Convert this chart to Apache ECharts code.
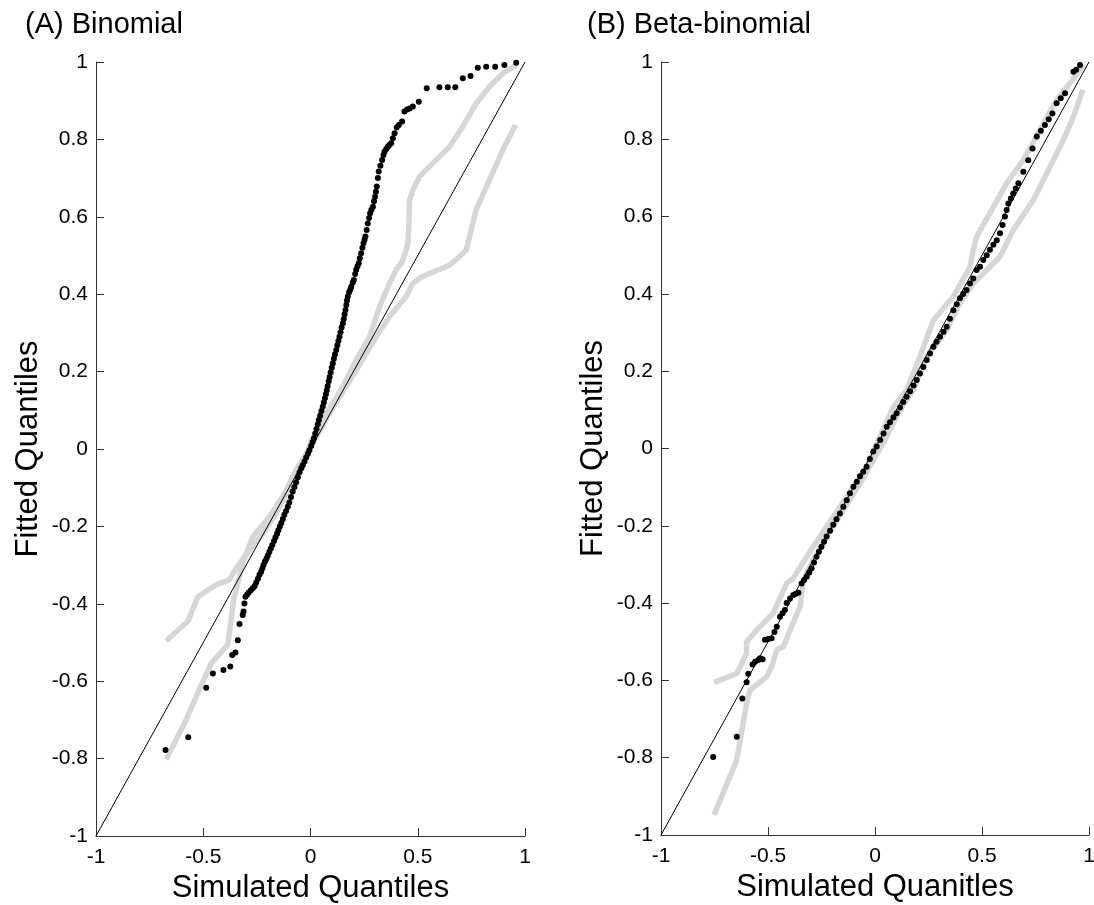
<!DOCTYPE html>
<html lang="en">
  <head>
    <meta charset="UTF-8" />
    <script src="https://cdn.jsdelivr.net/npm/echarts@6/dist/echarts.min.js"></script>
    <title>QQ plots</title>
    <style>
      html, body { margin: 0; padding: 0; background: #fff; }
    </style>
  </head>
  <body>
    <div id="container" style="width: 1094px; height: 905px;"></div>

    <script>
      // ---- data: [simulated, fitted] ----
      const binomialPoints = [
        [-0.676, -0.778], [-0.570, -0.745], [-0.486, -0.617], [-0.455, -0.580], [-0.406, -0.571],
        [-0.374, -0.562], [-0.365, -0.532], [-0.350, -0.526], [-0.339, -0.494], [-0.331, -0.452],
        [-0.316, -0.429], [-0.312, -0.420], [-0.308, -0.399], [-0.303, -0.382], [-0.295, -0.376],
        [-0.288, -0.371], [-0.278, -0.365], [-0.269, -0.360], [-0.260, -0.354], [-0.253, -0.345],
        [-0.245, -0.335], [-0.238, -0.325], [-0.230, -0.317], [-0.224, -0.308], [-0.219, -0.300],
        [-0.212, -0.291], [-0.205, -0.283], [-0.199, -0.275], [-0.192, -0.266], [-0.185, -0.257],
        [-0.178, -0.248], [-0.170, -0.238], [-0.163, -0.228], [-0.156, -0.219], [-0.150, -0.210],
        [-0.143, -0.200], [-0.136, -0.191], [-0.129, -0.181], [-0.122, -0.170], [-0.114, -0.160],
        [-0.106, -0.149], [-0.099, -0.138], [-0.091, -0.124], [-0.083, -0.110], [-0.075, -0.098],
        [-0.067, -0.086], [-0.059, -0.073], [-0.051, -0.060], [-0.043, -0.050], [-0.036, -0.042],
        [-0.028, -0.032], [-0.020, -0.022], [-0.012, -0.012], [-0.005, -0.003], [0.003, 0.008],
        [0.010, 0.018], [0.016, 0.028], [0.022, 0.040], [0.028, 0.052], [0.034, 0.064],
        [0.039, 0.075], [0.045, 0.086], [0.051, 0.098], [0.057, 0.109], [0.062, 0.120],
        [0.067, 0.131], [0.072, 0.142], [0.076, 0.152], [0.080, 0.163], [0.085, 0.175],
        [0.089, 0.186], [0.094, 0.198], [0.099, 0.210], [0.104, 0.221], [0.109, 0.233],
        [0.114, 0.244], [0.120, 0.256], [0.125, 0.268], [0.130, 0.279], [0.135, 0.290],
        [0.140, 0.302], [0.145, 0.314], [0.151, 0.325], [0.155, 0.336], [0.159, 0.348],
        [0.163, 0.359], [0.167, 0.372], [0.170, 0.384], [0.174, 0.394], [0.180, 0.405],
        [0.186, 0.413], [0.190, 0.419], [0.197, 0.430], [0.202, 0.437], [0.208, 0.452],
        [0.213, 0.463], [0.219, 0.472], [0.225, 0.480], [0.230, 0.493], [0.236, 0.506],
        [0.242, 0.520], [0.247, 0.532], [0.252, 0.541], [0.256, 0.549], [0.262, 0.566],
        [0.267, 0.583], [0.273, 0.597], [0.278, 0.609], [0.284, 0.618], [0.291, 0.626],
        [0.296, 0.640], [0.301, 0.652], [0.305, 0.665], [0.309, 0.678], [0.314, 0.700],
        [0.318, 0.717], [0.326, 0.732], [0.334, 0.747], [0.340, 0.760], [0.345, 0.768],
        [0.353, 0.775], [0.361, 0.781], [0.368, 0.786], [0.376, 0.790], [0.384, 0.803],
        [0.392, 0.816], [0.402, 0.831], [0.412, 0.837], [0.427, 0.846], [0.438, 0.872],
        [0.450, 0.877], [0.462, 0.880], [0.477, 0.885], [0.505, 0.897], [0.542, 0.932],
        [0.601, 0.935], [0.640, 0.935], [0.675, 0.935], [0.710, 0.958], [0.746, 0.964],
        [0.780, 0.985], [0.819, 0.988], [0.861, 0.988], [0.904, 0.992], [0.959, 0.998]
      ];

      const binomialUpper = [
        [-0.673, -0.496], [-0.570, -0.444], [-0.525, -0.382], [-0.480, -0.365], [-0.440, -0.351],
        [-0.378, -0.338], [-0.346, -0.308], [-0.284, -0.261], [-0.222, -0.218], [-0.160, -0.166],
        [-0.098, -0.097], [-0.036, -0.037], [0.003, 0.019], [0.057, 0.075], [0.151, 0.161],
        [0.213, 0.230], [0.275, 0.290], [0.322, 0.368], [0.368, 0.428], [0.401, 0.465],
        [0.423, 0.480], [0.438, 0.500], [0.454, 0.530], [0.460, 0.600], [0.462, 0.643],
        [0.477, 0.669], [0.508, 0.704], [0.586, 0.747], [0.648, 0.781], [0.710, 0.833],
        [0.772, 0.893], [0.834, 0.936], [0.897, 0.971], [0.959, 0.992]
      ];

      const binomialLower = [
        [-0.673, -0.802], [-0.580, -0.700], [-0.533, -0.640], [-0.463, -0.554], [-0.386, -0.506],
        [-0.370, -0.442], [-0.359, -0.390], [-0.346, -0.364], [-0.316, -0.295], [-0.269, -0.227],
        [-0.191, -0.175], [-0.129, -0.123], [-0.067, -0.054], [0.011, 0.015], [0.089, 0.092],
        [0.213, 0.204], [0.306, 0.290], [0.368, 0.342], [0.446, 0.394], [0.477, 0.428],
        [0.510, 0.442], [0.539, 0.450], [0.648, 0.475], [0.695, 0.497], [0.726, 0.514],
        [0.772, 0.618], [0.834, 0.695], [0.897, 0.773], [0.956, 0.837]
      ];

      const betaPoints = [
        [-0.756, -0.798], [-0.646, -0.746], [-0.620, -0.647], [-0.600, -0.605], [-0.592, -0.583],
        [-0.572, -0.559], [-0.560, -0.552], [-0.545, -0.547], [-0.537, -0.543], [-0.525, -0.545],
        [-0.514, -0.495], [-0.499, -0.493], [-0.483, -0.491], [-0.470, -0.475], [-0.459, -0.461],
        [-0.444, -0.435], [-0.432, -0.426], [-0.421, -0.418], [-0.413, -0.400], [-0.397, -0.388],
        [-0.382, -0.379], [-0.370, -0.376], [-0.358, -0.373], [-0.343, -0.349], [-0.331, -0.340],
        [-0.319, -0.332], [-0.307, -0.321], [-0.296, -0.310], [-0.285, -0.295], [-0.273, -0.280],
        [-0.262, -0.267], [-0.250, -0.254], [-0.238, -0.241], [-0.226, -0.228], [-0.210, -0.213],
        [-0.195, -0.197], [-0.180, -0.183], [-0.164, -0.168], [-0.148, -0.151], [-0.132, -0.134],
        [-0.117, -0.116], [-0.101, -0.099], [-0.085, -0.086], [-0.070, -0.072], [-0.055, -0.060],
        [-0.039, -0.047], [-0.024, -0.027], [-0.008, -0.008], [0.008, 0.005], [0.024, 0.022],
        [0.040, 0.039], [0.055, 0.056], [0.070, 0.068], [0.086, 0.080], [0.101, 0.091],
        [0.117, 0.106], [0.132, 0.120], [0.148, 0.134], [0.164, 0.148], [0.180, 0.163],
        [0.195, 0.177], [0.210, 0.194], [0.226, 0.211], [0.242, 0.229], [0.257, 0.246],
        [0.273, 0.263], [0.288, 0.276], [0.304, 0.289], [0.320, 0.302], [0.335, 0.315],
        [0.350, 0.336], [0.366, 0.358], [0.382, 0.373], [0.397, 0.389], [0.412, 0.400],
        [0.428, 0.410], [0.444, 0.427], [0.459, 0.440], [0.475, 0.462], [0.491, 0.470],
        [0.506, 0.488], [0.522, 0.500], [0.537, 0.514], [0.553, 0.527], [0.569, 0.539],
        [0.584, 0.557], [0.596, 0.578], [0.607, 0.600], [0.615, 0.617], [0.623, 0.634],
        [0.635, 0.647], [0.646, 0.660], [0.658, 0.673], [0.670, 0.686], [0.693, 0.716],
        [0.716, 0.746], [0.736, 0.776], [0.756, 0.807], [0.775, 0.822], [0.794, 0.837],
        [0.812, 0.852], [0.829, 0.867], [0.849, 0.893], [0.868, 0.906], [0.888, 0.919],
        [0.927, 0.975], [0.940, 0.980], [0.958, 0.992]
      ];

      const betaUpper = [
        [-0.752, -0.605], [-0.646, -0.582], [-0.600, -0.530], [-0.600, -0.500], [-0.553, -0.470],
        [-0.475, -0.426], [-0.413, -0.349], [-0.382, -0.336], [-0.319, -0.280], [-0.226, -0.202],
        [-0.132, -0.125], [-0.039, -0.047], [0.008, 0.013], [0.086, 0.108], [0.148, 0.151],
        [0.210, 0.238], [0.273, 0.332], [0.366, 0.393], [0.444, 0.470], [0.459, 0.514],
        [0.475, 0.548], [0.537, 0.609], [0.615, 0.686], [0.693, 0.746], [0.771, 0.824],
        [0.849, 0.902], [0.911, 0.945], [0.974, 0.992]
      ];

      const betaLower = [
        [-0.752, -0.948], [-0.646, -0.806], [-0.600, -0.659], [-0.584, -0.625], [-0.506, -0.590],
        [-0.483, -0.565], [-0.459, -0.521], [-0.428, -0.513], [-0.397, -0.470], [-0.350, -0.409],
        [-0.335, -0.340], [-0.288, -0.288], [-0.226, -0.228], [-0.148, -0.159], [-0.070, -0.090],
        [-0.008, -0.030], [0.055, 0.031], [0.117, 0.100], [0.179, 0.151], [0.242, 0.238],
        [0.335, 0.307], [0.397, 0.376], [0.459, 0.427], [0.522, 0.462], [0.584, 0.496],
        [0.646, 0.565], [0.740, 0.643], [0.818, 0.729], [0.880, 0.798], [0.927, 0.858],
        [0.971, 0.928]
      ];

      const identityLine = [[-1, -1], [1, 1]];

      const panelTitles = ["(A) Binomial", "(B) Beta-binomial"];
      const xNames = ["Simulated Quantiles", "Simulated Quanitles"];
      const yName = "Fitted Quantiles";

      const FONT = "Liberation Sans, Arial, sans-serif";
      const myChart = echarts.init(document.getElementById("container"));

      function makeX(idx) {
        return {
          type: "value", gridIndex: idx, min: -1, max: 1, interval: 0.5,
          name: xNames[idx], nameLocation: "middle", nameGap: 33,
          nameTextStyle: { fontSize: 31, color: "#000", fontFamily: FONT },
          axisLine: { show: true, onZero: false, lineStyle: { color: "#333", width: 1 } },
          axisTick: { show: true, inside: true, length: 8, lineStyle: { color: "#333" } },
          axisLabel: { fontSize: 21, color: "#000", fontFamily: FONT, margin: 11 },
          splitLine: { show: false }
        };
      }

      function makeY(idx) {
        return {
          type: "value", gridIndex: idx, min: -1, max: 1, interval: 0.2,
          name: yName, nameLocation: "middle", nameGap: 52, nameRotate: 90,
          nameTextStyle: { fontSize: 31, color: "#000", fontFamily: FONT },
          axisLine: { show: true, onZero: false, lineStyle: { color: "#333", width: 1 } },
          axisTick: { show: true, inside: true, length: 8, lineStyle: { color: "#333" } },
          axisLabel: { fontSize: 21, color: "#000", fontFamily: FONT, margin: 8 },
          splitLine: { show: false }
        };
      }

      function panelSeries(idx, pts, upper, lower) {
        const band = (d) => ({
          type: "line", xAxisIndex: idx, yAxisIndex: idx, data: d,
          showSymbol: false, silent: true, z: 1,
          lineStyle: { color: "#d6d6d6", width: 5.5 }
        });
        return [
          band(upper),
          band(lower),
          {
            type: "line", xAxisIndex: idx, yAxisIndex: idx, data: identityLine,
            showSymbol: false, silent: true, z: 2,
            lineStyle: { color: "#000", width: 1 }
          },
          {
            type: "scatter", xAxisIndex: idx, yAxisIndex: idx, data: pts,
            symbolSize: 6, z: 3, itemStyle: { color: "#000", opacity: 1 }
          }
        ];
      }

      const option = {
        animation: false,
        backgroundColor: "#fff",
        title: [
          { text: panelTitles[0], left: 20, top: 5, textStyle: { fontSize: 29, fontWeight: "normal", color: "#000", fontFamily: FONT } },
          { text: panelTitles[1], left: 582, top: 5, textStyle: { fontSize: 29, fontWeight: "normal", color: "#000", fontFamily: FONT } }
        ],
        grid: [
          { left: 96, top: 62, width: 429, height: 774, containLabel: false, outerBoundsMode: "none" },
          { left: 661, top: 62, width: 428, height: 773, containLabel: false, outerBoundsMode: "none" }
        ],
        xAxis: [makeX(0), makeX(1)],
        yAxis: [makeY(0), makeY(1)],
        series: [
          ...panelSeries(0, binomialPoints, binomialUpper, binomialLower),
          ...panelSeries(1, betaPoints, betaUpper, betaLower)
        ]
      };

      myChart.setOption(option);
    </script>
  </body>
</html>
